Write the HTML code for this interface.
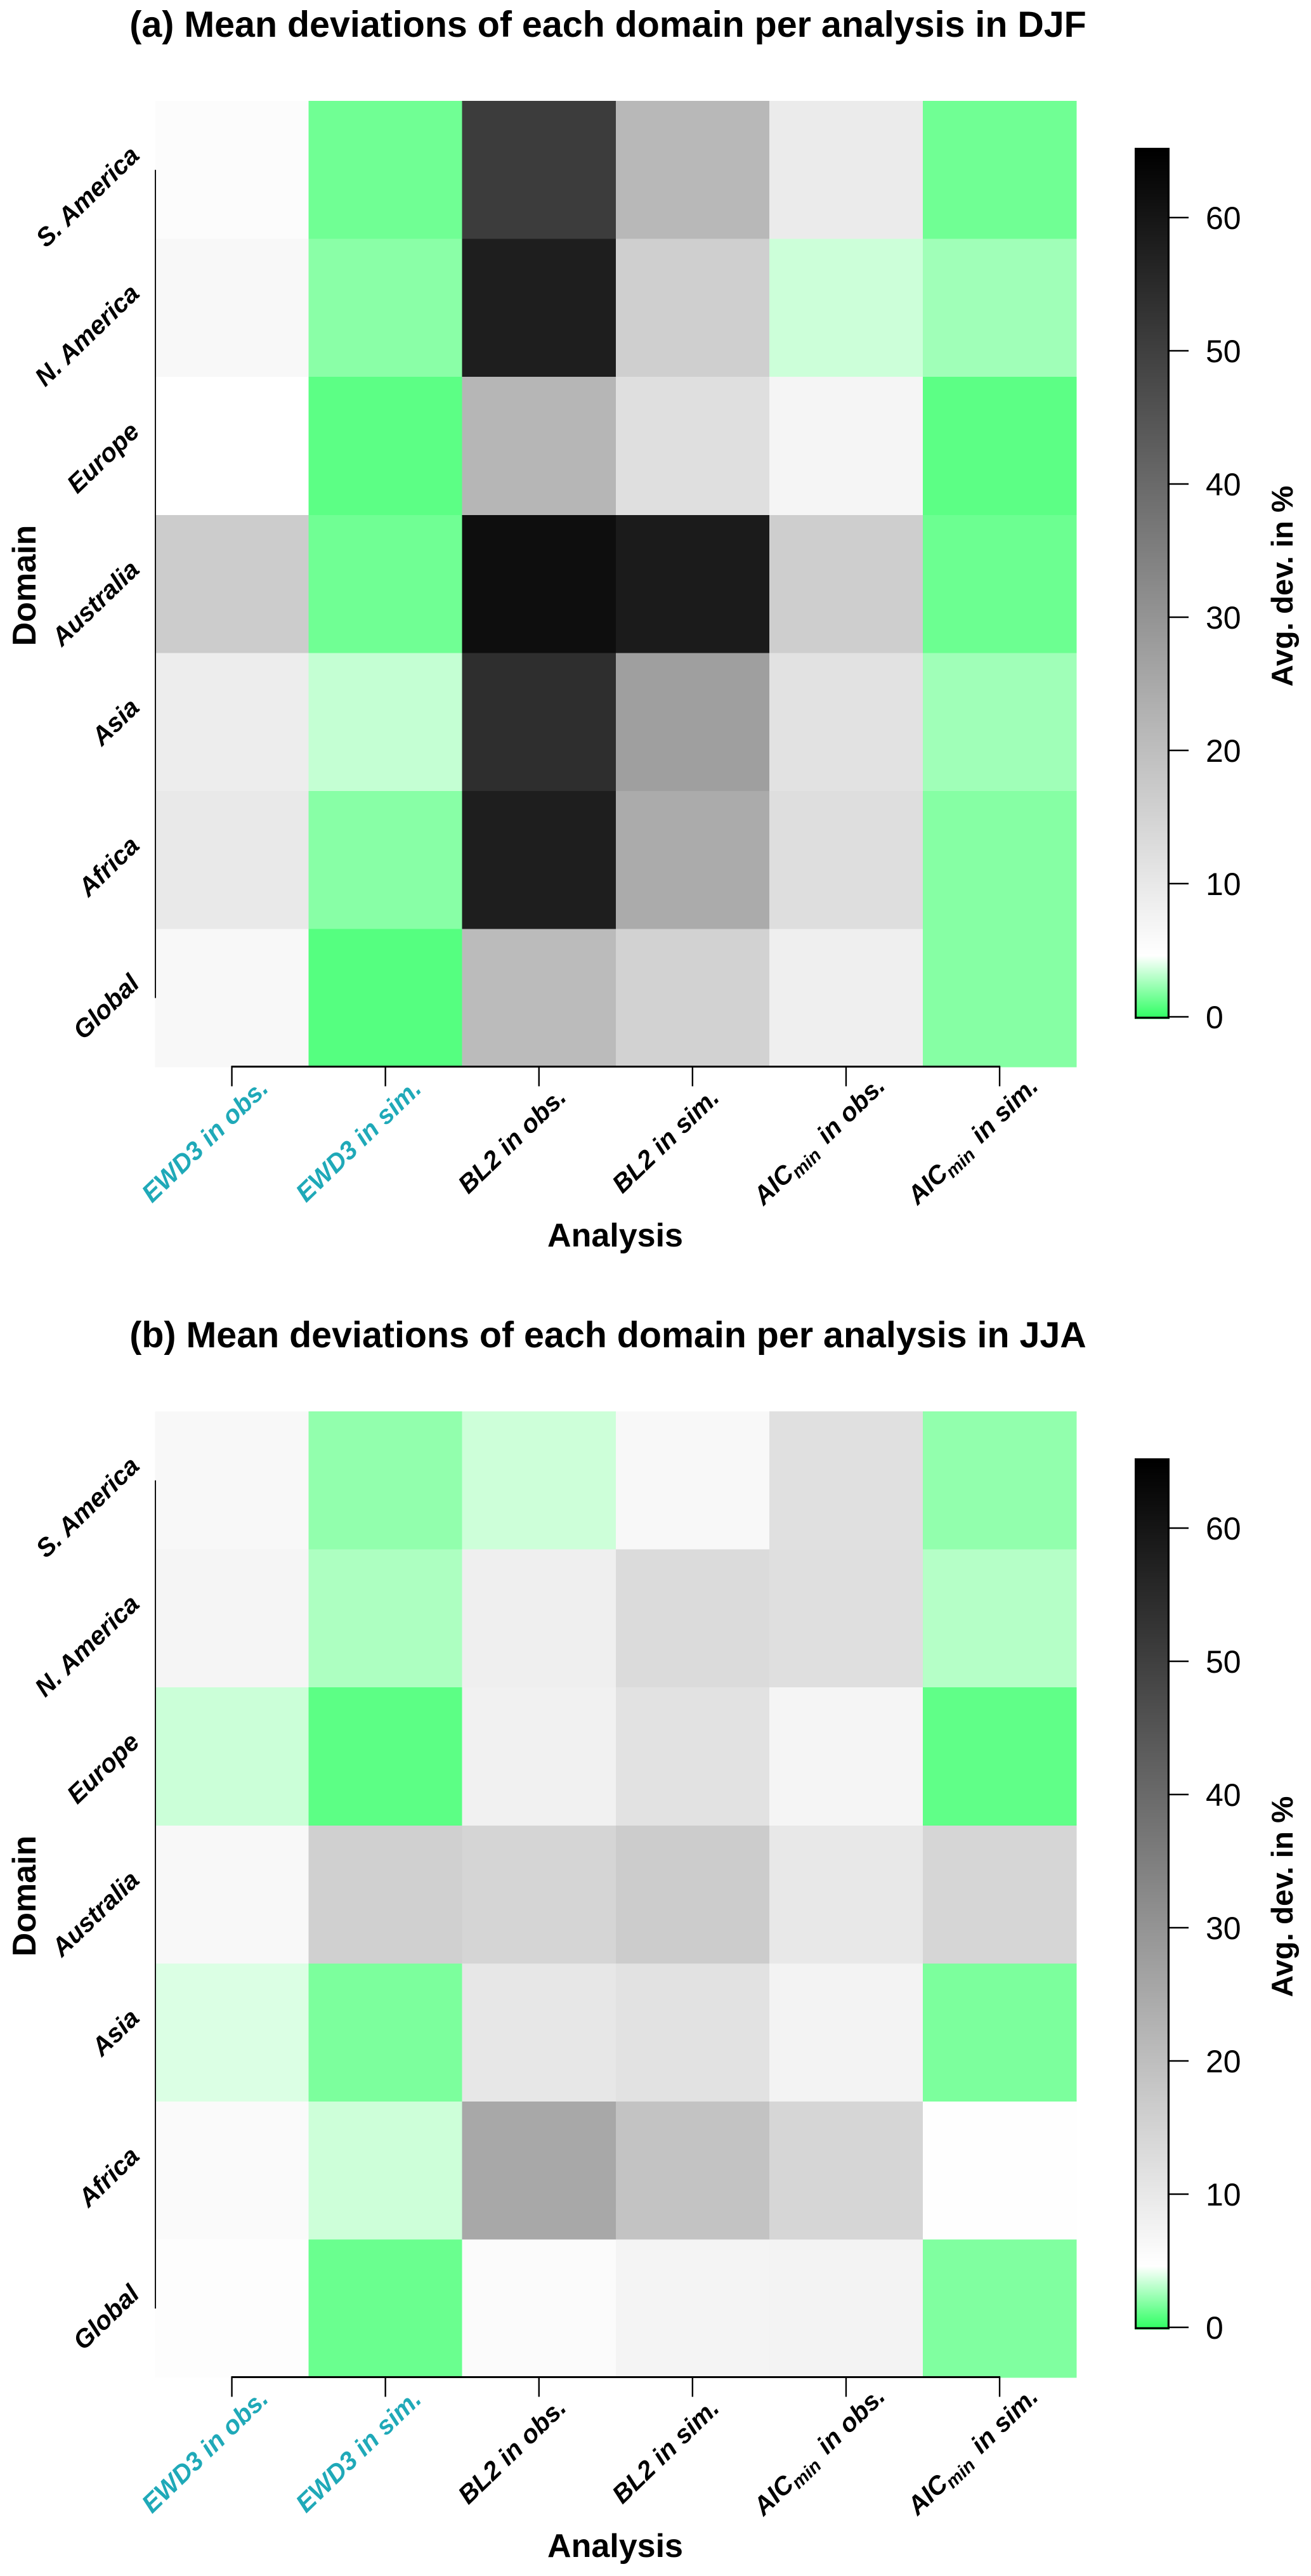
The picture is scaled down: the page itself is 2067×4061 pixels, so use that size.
<!DOCTYPE html>
<html lang="en">
<head>
<meta charset="utf-8">
<title>Mean deviations of each domain per analysis</title>
<style>
html,body{margin:0;padding:0;background:#fff;}
svg{display:block;}
text{font-family:"Liberation Sans",Arial,sans-serif;fill:#000;}
.title{font-weight:700;font-size:57.4px;text-anchor:middle;}
.axis-title{font-weight:700;font-size:52px;text-anchor:middle;}
.bar-title{font-weight:700;font-size:47.5px;text-anchor:middle;}
.cat{font-weight:700;font-style:italic;font-size:40.4px;}
.tick{font-size:50px;}
</style>
</head>
<body>
<svg id="figure" xmlns="http://www.w3.org/2000/svg" width="2067" height="4061" viewBox="0 0 2067 4061">
  <rect x="0" y="0" width="2067" height="4061" fill="#fff"/>
  <g id="panel-a">
    <text class="title" x="958.5" y="58">(a) Mean deviations of each domain per analysis in DJF</text>
    <text class="axis-title" x="970" y="1965">Analysis</text>
    <text class="axis-title" transform="translate(56 923) rotate(-90)">Domain</text>
    <text class="bar-title" transform="translate(2038 924) rotate(-90)">Avg. dev. in %</text>
  </g>
  <g id="panel-b" transform="translate(0 2066)">
    <text class="title" x="958.5" y="58">(b) Mean deviations of each domain per analysis in JJA</text>
    <text class="axis-title" x="970" y="1965">Analysis</text>
    <text class="axis-title" transform="translate(56 923) rotate(-90)">Domain</text>
    <text class="bar-title" transform="translate(2038 924) rotate(-90)">Avg. dev. in %</text>
  </g>
</svg>
<script>
const domains = ["S. America","N. America","Europe","Australia","Asia","Africa","Global"];
const analyses = ["EWD3 in obs.","EWD3 in sim.","BL2 in obs.","BL2 in sim.","AICmin in obs.","AICmin in sim."];
const colorbarTicks = [0,10,20,30,40,50,60];

const djfSAmerica  = [5.3,1.38,50.8,21.4,9.3,1.38];
const djfNAmerica  = [6.3,1.96,57.9,16.0,3.45,2.46];
const djfEurope    = [4.6,0.92,21.9,12.2,7.0,0.92];
const djfAustralia = [16.7,1.38,61.7,58.6,16.2,1.29];
const djfAsia      = [8.9,3.27,54.1,27.3,11.5,2.46];
const djfAfrica    = [9.8,1.92,57.9,24.5,12.4,1.87];
const djfGlobal    = [6.3,0.77,20.7,15.3,8.4,1.87];

const jjaSAmerica  = [6.3,2.14,3.47,6.3,11.9,2.14];
const jjaNAmerica  = [7.0,2.75,8.4,13.1,12.2,2.93];
const jjaEurope    = [3.43,0.92,7.9,11.5,7.0,1.01];
const jjaAustralia = [6.3,15.7,14.5,16.7,10.0,14.3];
const jjaAsia      = [3.79,1.65,10.3,11.5,7.4,1.65];
const jjaAfrica    = [5.8,3.47,25.2,18.8,14.3,4.8];
const jjaGlobal    = [5.1,1.24,5.5,7.2,7.4,1.74];

const djfRows = [djfSAmerica,djfNAmerica,djfEurope,djfAustralia,djfAsia,djfAfrica,djfGlobal];
const jjaRows = [jjaSAmerica,jjaNAmerica,jjaEurope,jjaAustralia,jjaAsia,jjaAfrica,jjaGlobal];

const SVGNS = "http://www.w3.org/2000/svg";
const X0 = 244.5, CW = 242.1, Y0 = 159, RH = 217.6;
const xLeft = c => X0 + CW * c;
const xCenter = c => xLeft(c) + CW / 2;
const yTop = r => Y0 + RH * r;
const yCenter = r => yTop(r) + RH / 2;
const barY = v => 1603 - 21 * v;
const WHITE_AT = 4.6, MAX_V = 65;

function colour(v) {
  if (v <= WHITE_AT) {
    const t = Math.max(0, v / WHITE_AT);
    return "rgb(" + Math.round(51 + 204 * t) + ",255," + Math.round(102 + 153 * t) + ")";
  }
  const g = Math.max(0, Math.round(255 * (1 - (v - WHITE_AT) / (MAX_V - WHITE_AT))));
  return "rgb(" + g + "," + g + "," + g + ")";
}

function mk(parent, tag, attrs) {
  const el = document.createElementNS(SVGNS, tag);
  for (const k in attrs) el.setAttribute(k, attrs[k]);
  parent.appendChild(el);
  return el;
}

function drawPanel(panel, rows) {
  const cellGroup = mk(panel, "g", {"shape-rendering":"crispEdges"});
  
  
  rows.forEach((row, r) => {
    row.forEach((v, c) => {
      const cell = mk(cellGroup, "rect", {x:xLeft(c), y:yTop(r), width:CW + 0.5, height:RH + 0.5, fill:colour(v)});
      
      
    });
  });

  const yAxis = mk(panel, "line", {x1:245, x2:245, y1:yCenter(0), y2:yCenter(domains.length - 1), stroke:"#111", "stroke-width":2});
  
  

  domains.forEach((d, r) => {
    const t = mk(panel, "text", {"class":"cat", "text-anchor":"end", transform:"translate(222 " + (yCenter(r) - 20) + ") rotate(-44)"});
    t.textContent = d;
    
    
  });

  const xAxis = mk(panel, "line", {x1:xCenter(0) - 1, x2:xCenter(analyses.length - 1) + 1, y1:1681.5, y2:1681.5, stroke:"#000", "stroke-width":3});
  
  

  analyses.forEach((a, c) => {
    const tk = mk(panel, "line", {x1:xCenter(c), x2:xCenter(c), y1:1681, y2:1712.5, stroke:"#000", "stroke-width":2.4});
    
    

    const t = mk(panel, "text", {"class":"cat", "text-anchor":"middle", transform:"translate(" + (xCenter(c) - 33) + " 1808) rotate(-44)"});
    
    
    if (a.startsWith("EWD3")) t.style.fill = "#1fa9b8";
    if (a.startsWith("AICmin")) {
      const s1 = mk(t, "tspan", {});
      s1.textContent = "AIC";
      const s2 = mk(t, "tspan", {dy:8, "font-size":29});
      s2.textContent = "min";
      const s3 = mk(t, "tspan", {dy:-8, dx:7});
      s3.textContent = a.slice(6);
    } else {
      t.textContent = a;
    }
  });

  const bar = mk(panel, "g", {"shape-rendering":"crispEdges"});
  
  
  for (let y = 234; y < 1606; y += 2) {
    const v = (1603 - y) / 21;
    const band = mk(bar, "rect", {x:1789, y:y, width:55, height:2.5, fill:colour(Math.max(0, v - 0.05))});
    
    
  }
  const frame = mk(panel, "rect", {x:1790.6, y:234.6, width:51.8, height:1369.8, fill:"none", stroke:"#000", "stroke-width":3.2});
  
  

  colorbarTicks.forEach(v => {
    const tk = mk(panel, "line", {x1:1844, x2:1874, y1:barY(v), y2:barY(v), stroke:"#000", "stroke-width":2.4});
    
    
    const t = mk(panel, "text", {"class":"tick", x:1901, y:barY(v) + 18});
    t.textContent = String(v);
    
    
  });
}

drawPanel(document.getElementById("panel-a"), djfRows);
drawPanel(document.getElementById("panel-b"), jjaRows);
</script>
</body>
</html>
